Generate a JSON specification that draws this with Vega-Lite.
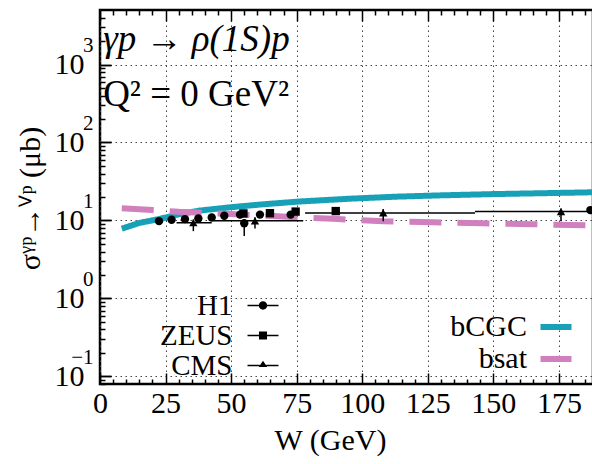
{
  "$schema": "https://vega.github.io/schema/vega-lite/v6.json",
  "width": 493,
  "height": 374,
  "autosize": {"type": "none"},
  "padding": {"left": 100, "top": 10, "right": 0, "bottom": 80},
  "background": "white",
  "config": {
    "view": {"stroke": "black", "strokeWidth": 2.5},
    "font": "Liberation Serif",
    "axis": {
      "labelFont": "Liberation Serif",
      "labelFontSize": 30,
      "labelColor": "black",
      "titleFont": "Liberation Serif",
      "titleFontSize": 30,
      "titleFontWeight": "normal",
      "titleColor": "black",
      "domain": false,
      "tickColor": "black",
      "tickWidth": 1.5,
      "grid": false
    },
    "legend": {
      "labelFont": "Liberation Serif",
      "labelFontSize": 30,
      "labelColor": "black",
      "labelLimit": 300
    }
  },
  "datasets": {
    "curves": [
      {"model": "bCGC", "W": 8.3, "sigma": 7.85},
      {"model": "bCGC", "W": 15, "sigma": 9.3},
      {"model": "bCGC", "W": 22.9, "sigma": 10.5},
      {"model": "bCGC", "W": 30, "sigma": 12.0},
      {"model": "bCGC", "W": 38, "sigma": 13.4},
      {"model": "bCGC", "W": 50, "sigma": 14.8},
      {"model": "bCGC", "W": 61, "sigma": 16.0},
      {"model": "bCGC", "W": 76, "sigma": 17.5},
      {"model": "bCGC", "W": 95, "sigma": 19.0},
      {"model": "bCGC", "W": 113, "sigma": 20.2},
      {"model": "bCGC", "W": 130, "sigma": 21.0},
      {"model": "bCGC", "W": 150, "sigma": 21.8},
      {"model": "bCGC", "W": 170, "sigma": 22.4},
      {"model": "bCGC", "W": 188, "sigma": 23.0},
      {"model": "bsat", "W": 8.3, "sigma": 14.3},
      {"model": "bsat", "W": 20, "sigma": 13.6},
      {"model": "bsat", "W": 30, "sigma": 12.9},
      {"model": "bsat", "W": 48, "sigma": 12.2},
      {"model": "bsat", "W": 66, "sigma": 11.4},
      {"model": "bsat", "W": 89, "sigma": 10.5},
      {"model": "bsat", "W": 108, "sigma": 9.8},
      {"model": "bsat", "W": 127, "sigma": 9.5},
      {"model": "bsat", "W": 146, "sigma": 9.2},
      {"model": "bsat", "W": 165, "sigma": 8.95},
      {"model": "bsat", "W": 188, "sigma": 8.65}
    ],
    "points": [
      {"exp": "H1", "W": 22.5, "sigma": 9.8},
      {"exp": "H1", "W": 27.3, "sigma": 10.2},
      {"exp": "H1", "W": 32.4, "sigma": 10.4},
      {"exp": "H1", "W": 37.5, "sigma": 10.6},
      {"exp": "H1", "W": 42.6, "sigma": 10.9},
      {"exp": "H1", "W": 47.4, "sigma": 11.5},
      {"exp": "H1", "W": 53.4, "sigma": 11.9},
      {"exp": "H1", "W": 55.0, "sigma": 9.2, "lo": 6.3, "hi": 10.4},
      {"exp": "H1", "W": 61.0, "sigma": 11.9},
      {"exp": "H1", "W": 72.7, "sigma": 11.9},
      {"exp": "H1", "W": 187, "sigma": 13.6},
      {"exp": "ZEUS", "W": 54.7, "sigma": 12.3},
      {"exp": "ZEUS", "W": 64.8, "sigma": 12.4},
      {"exp": "ZEUS", "W": 74.6, "sigma": 13.0},
      {"exp": "ZEUS", "W": 89.9, "sigma": 13.2},
      {"exp": "CMS", "W": 35.6, "sigma": 9.35, "Wlo": 29.2, "Whi": 42.6, "lo": 7.3, "hi": 10.3},
      {"exp": "CMS", "W": 59.1, "sigma": 9.9, "Wlo": 43.2, "Whi": 77.5, "lo": 7.9, "hi": 11.0},
      {"exp": "CMS", "W": 108, "sigma": 12.5, "Wlo": 78.2, "Whi": 143, "lo": 9.8, "hi": 14.0},
      {"exp": "CMS", "W": 175.8, "sigma": 13.0, "Wlo": 143, "Whi": 210, "lo": 9.8, "hi": 14.2}
    ]
  },
  "layer": [
    {
      "data": {"name": "curves"},
      "mark": {"type": "line", "strokeWidth": 6, "strokeCap": "butt", "clip": true},
      "encoding": {
        "x": {
          "field": "W", "type": "quantitative",
          "scale": {"domain": [0, 188], "nice": false, "zero": false},
          "axis": {
            "orient": "bottom",
            "values": [0, 25, 50, 75, 100, 125, 150, 175],
            "tickSize": -11,
            "grid": true, "gridDash": [1.5, 3.5], "gridColor": "#444", "gridWidth": 1,
            "labelPadding": 15,
            "labelFlush": false,
            "title": "W (GeV)",
            "titleX": 230, "titleY": 56, "titleBaseline": "middle", "titleAnchor": null
          }
        },
        "y": {
          "field": "sigma", "type": "quantitative",
          "scale": {"type": "log", "domain": [0.08, 5000], "nice": false},
          "axis": {
            "orient": "left",
            "values": [0.1, 1, 10, 100, 1000],
            "tickSize": -11,
            "grid": true, "gridDash": [1.5, 3.5], "gridColor": "#444", "gridWidth": 1,
            "labelPadding": 27,
            "labelExpr": "datum.value < 0.5 ? '10   ' : '10'",
            "title": "σᵞᵖ→ⱽᵖ (μb)",
            "titleX": -70, "titleY": 188, "titleBaseline": "middle", "titleAngle": -90
          }
        },
        "color": {
          "field": "model", "type": "nominal",
          "scale": {"domain": ["bCGC", "bsat"], "range": ["#17a0b6", "#d07fbf"]},
          "legend": {
            "title": null, "orient": "none", "legendX": 441, "legendY": 302,
            "labelAlign": "right", "labelOffset": -44,
            "symbolType": "M-2,0L2,0", "symbolSize": 240, "symbolStrokeWidth": 6,
            "rowPadding": 2, "padding": 0
          }
        },
        "strokeDash": {
          "field": "model", "type": "nominal",
          "scale": {"domain": ["bCGC", "bsat"], "range": [[1, 0], [32, 16]]},
          "legend": {
            "title": null, "orient": "none", "legendX": 441, "legendY": 302,
            "labelAlign": "right", "labelOffset": -44,
            "symbolType": "M-2,0L2,0", "symbolSize": 240, "symbolStrokeWidth": 6,
            "rowPadding": 2, "padding": 0
          }
        }
      }
    },
    {
      "data": {"name": "points"},
      "mark": {"type": "rule", "color": "black", "strokeWidth": 1.5, "clip": true},
      "encoding": {
        "x": {
          "field": "Wlo", "type": "quantitative",
          "scale": {"domain": [0, 188], "nice": false, "zero": false},
          "axis": {
            "orient": "bottom",
            "values": [5, 10, 15, 20, 30, 35, 40, 45, 55, 60, 65, 70, 80, 85, 90, 95, 105, 110, 115, 120, 130, 135, 140, 145, 155, 160, 165, 170, 180, 185],
            "tickSize": -5, "labels": false, "title": null
          }
        },
        "x2": {"field": "Whi"},
        "y": {
          "field": "sigma", "type": "quantitative",
          "scale": {"type": "log", "domain": [0.08, 5000], "nice": false},
          "axis": {
            "orient": "left",
            "values": [0.08, 0.09, 0.2, 0.3, 0.4, 0.5, 0.6, 0.7, 0.8, 0.9, 2, 3, 4, 5, 6, 7, 8, 9, 20, 30, 40, 50, 60, 70, 80, 90, 200, 300, 400, 500, 600, 700, 800, 900, 2000, 3000, 4000],
            "tickSize": -5, "labels": false, "title": null
          }
        }
      }
    },
    {
      "data": {"name": "points"},
      "mark": {"type": "rule", "color": "black", "strokeWidth": 1.5, "clip": true},
      "encoding": {
        "x": {
          "field": "W", "type": "quantitative",
          "scale": {"domain": [0, 188], "nice": false, "zero": false},
          "axis": {
            "orient": "top",
            "values": [0, 25, 50, 75, 100, 125, 150, 175],
            "tickSize": -11, "labels": false, "title": null
          }
        },
        "y": {
          "field": "lo", "type": "quantitative",
          "scale": {"type": "log", "domain": [0.08, 5000], "nice": false},
          "axis": null
        },
        "y2": {"field": "hi"}
      }
    },
    {
      "data": {"name": "points"},
      "mark": {"type": "point", "filled": true, "opacity": 1, "clip": true},
      "encoding": {
        "x": {
          "field": "W", "type": "quantitative",
          "scale": {"domain": [0, 188], "nice": false, "zero": false},
          "axis": {
            "orient": "top",
            "values": [5, 10, 15, 20, 30, 35, 40, 45, 55, 60, 65, 70, 80, 85, 90, 95, 105, 110, 115, 120, 130, 135, 140, 145, 155, 160, 165, 170, 180, 185],
            "tickSize": -5, "labels": false, "title": null
          }
        },
        "y": {
          "field": "sigma", "type": "quantitative",
          "scale": {"type": "log", "domain": [0.08, 5000], "nice": false},
          "axis": {
            "orient": "left",
            "values": [0.1, 1, 10, 100, 1000],
            "tickSize": -11,
            "labelFontSize": 21,
            "labelPadding": 18,
            "labelOffset": -19,
            "labelExpr": "datum.value < 0.5 ? '−1' : datum.value < 5 ? '0' : datum.value < 50 ? '1' : datum.value < 500 ? '2' : '3'",
            "title": null
          }
        },
        "shape": {
          "field": "exp", "type": "nominal",
          "scale": {"domain": ["H1", "ZEUS", "CMS"], "range": ["circle", "square", "triangle-up"]},
          "legend": null
        },
        "size": {"value": 70},
        "color": {"value": "black"}
      }
    },
    {
      "data": {"name": "points"},
      "mark": {"type": "point", "filled": true, "opacity": 0, "clip": true},
      "encoding": {
        "x": {"field": "W", "type": "quantitative", "scale": {"domain": [0, 188], "nice": false, "zero": false}, "axis": null},
        "y": {"field": "sigma", "type": "quantitative", "scale": {"type": "log", "domain": [0.08, 5000], "nice": false}, "axis": null},
        "shape": {
          "field": "exp", "type": "nominal",
          "scale": {
            "domain": ["H1", "ZEUS", "CMS"],
            "range": [
              "M-2,-0.1L-0.5,-0.1L-0.5,0.1L-2,0.1ZM0.5,-0.1L2,-0.1L2,0.1L0.5,0.1ZM0.54,0A0.54,0.54,0,1,1,-0.54,0A0.54,0.54,0,1,1,0.54,0Z",
              "M-2,-0.1L-0.52,-0.1L-0.52,0.1L-2,0.1ZM0.52,-0.1L2,-0.1L2,0.1L0.52,0.1ZM-0.52,-0.52L0.52,-0.52L0.52,0.52L-0.52,0.52Z",
              "M-2,-0.1L-0.42,-0.1L-0.42,0.1L-2,0.1ZM0.42,-0.1L2,-0.1L2,0.1L0.42,0.1ZM0,-0.6L0.55,0.2L-0.55,0.2Z"
            ]
          },
          "legend": {
            "title": null, "orient": "none", "legendX": 148.5, "legendY": 281,
            "labelAlign": "right", "labelOffset": -45,
            "labelFontSize": 29,
            "symbolSize": 240, "rowPadding": -1.5, "padding": 0,
            "symbolOpacity": 1,
            "symbolFillColor": "black",
            "symbolStrokeColor": "black",
            "symbolStrokeWidth": 0.5
          }
        },
        "size": {"value": 240},
        "color": {"value": "black"}
      }
    },
    {
      "data": {"values": [{"label": "γp  →  ρ(1S)p", "W": 1.2, "sigma": 2070}]},
      "mark": {"type": "text", "align": "left", "baseline": "middle", "fontSize": 37, "fontStyle": "italic", "font": "Liberation Serif", "color": "black"},
      "encoding": {
        "x": {"field": "W", "type": "quantitative", "scale": {"domain": [0, 188], "nice": false, "zero": false}, "axis": null},
        "y": {"field": "sigma", "type": "quantitative", "scale": {"type": "log", "domain": [0.08, 5000], "nice": false}, "axis": null},
        "text": {"field": "label"}
      }
    },
    {
      "data": {"values": [{"label": "Q² = 0 GeV²", "W": 1.2, "sigma": 409}]},
      "mark": {"type": "text", "align": "left", "baseline": "middle", "fontSize": 37, "font": "Liberation Serif", "color": "black"},
      "encoding": {
        "x": {"field": "W", "type": "quantitative", "scale": {"domain": [0, 188], "nice": false, "zero": false}, "axis": null},
        "y": {"field": "sigma", "type": "quantitative", "scale": {"type": "log", "domain": [0.08, 5000], "nice": false}, "axis": null},
        "text": {"field": "label"}
      }
    }
  ],
  "resolve": {
    "axis": {"x": "independent", "y": "independent"},
    "scale": {"shape": "independent"}
  }
}
